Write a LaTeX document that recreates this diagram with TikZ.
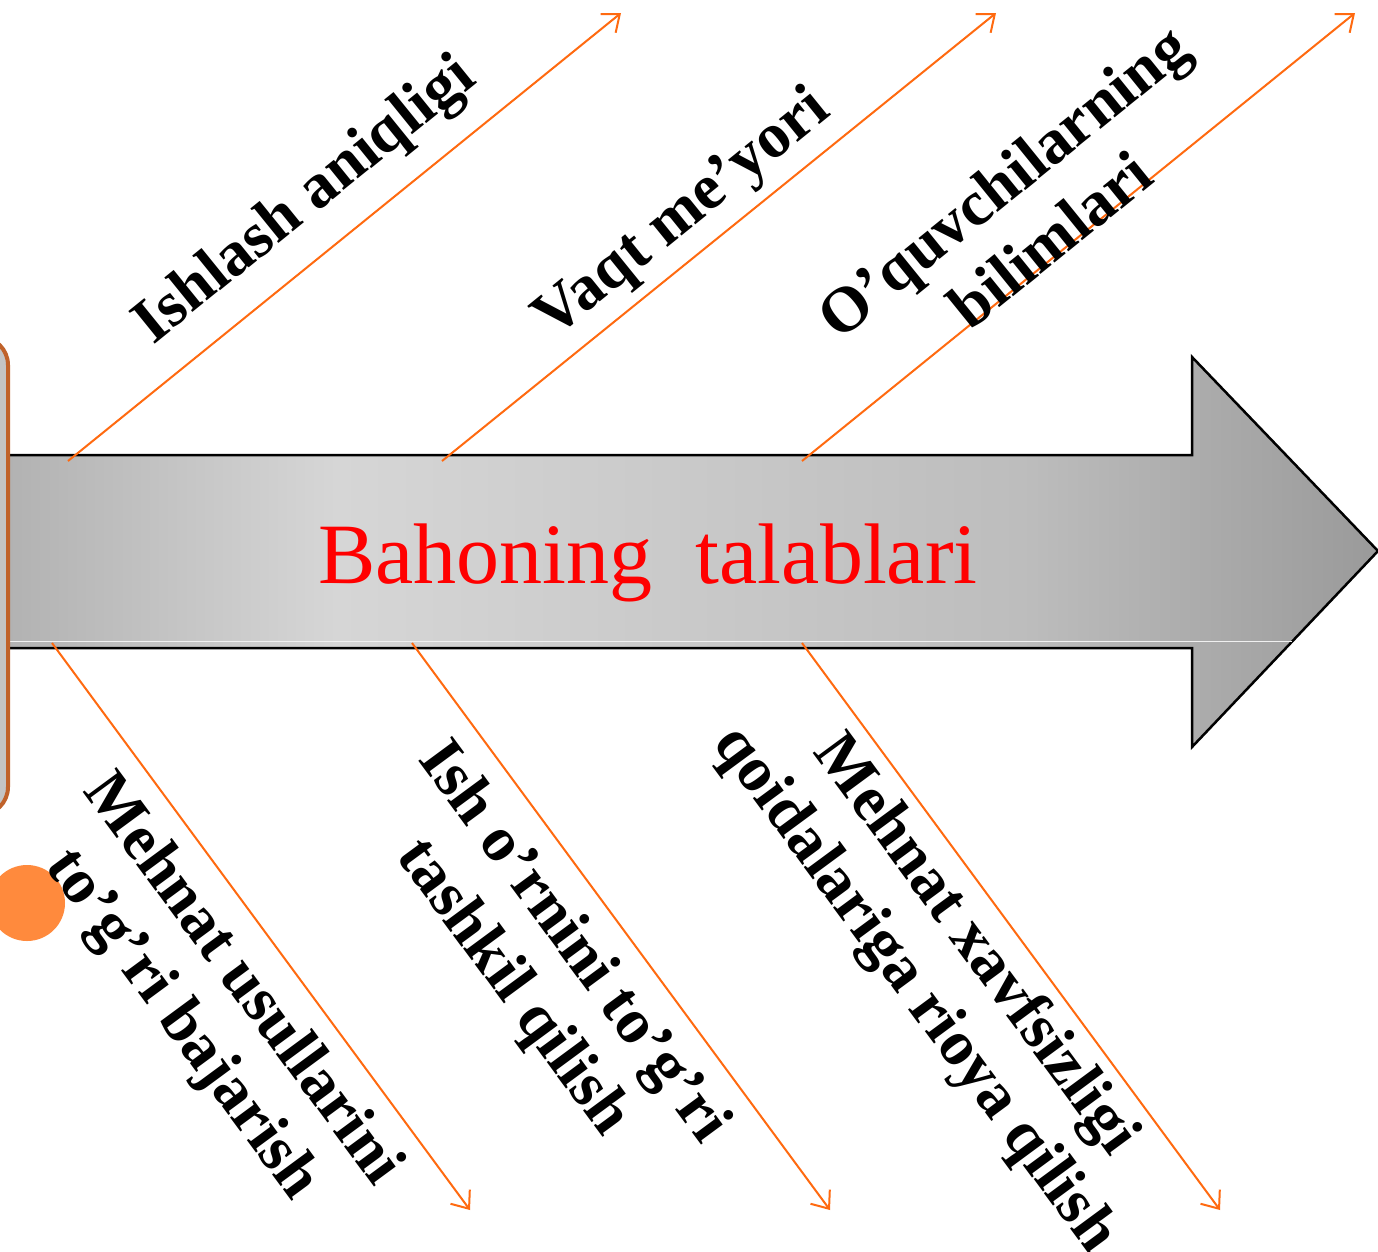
\documentclass[tikz,border=0pt]{standalone}
\usepackage{fontspec}
\setmainfont{Liberation Serif}
\usetikzlibrary{arrows.meta}
\definecolor{branch}{HTML}{FF6A10}
\definecolor{boxedge}{HTML}{C0622A}
\definecolor{boxfill}{HTML}{C4C4C4}
\definecolor{dotc}{HTML}{FF8A3D}
\definecolor{ga}{HTML}{B2B2B2}
\definecolor{gb}{HTML}{D6D6D6}
\definecolor{gc}{HTML}{BDBDBD}
\definecolor{gd}{HTML}{9A9A9A}
\pgfdeclarehorizontalshading{barshade}{100bp}{color(0bp)=(ga); color(25bp)=(ga); color(37bp)=(gb); color(62bp)=(gc); color(75bp)=(gd); color(100bp)=(gd)}
\tikzset{
  lab/.style={font=\bfseries\fontsize{64}{75}\selectfont, align=center, inner sep=0pt, text=black},
  branchline/.style={draw=branch, line width=2pt, -{Straight Barb[length=15pt,width=24pt]}},
  bigarrow/.style={draw=black, line width=2.5pt, shading=barshade},
}
\begin{document}
\begin{tikzpicture}[x=1pt,y=-1pt]
\useasboundingbox (0,0) rectangle (1378,1251);
\fill[white] (0,0) rectangle (1378,1251);
% big arrow
\path[bigarrow] (8,455) -- (1192,455) -- (1192,357) -- (1378,551) -- (1192,747) -- (1192,648) -- (8,648) -- cycle;
\draw[white!88!gray, line width=1pt] (10,641) -- (1292,641);
% left box and dot
\draw[boxedge, line width=4pt, fill=boxfill, rounded corners=28pt] (-60,337) rectangle (8,815);
\fill[dotc] (27,903) circle (38pt);
% title
\node[font=\fontsize{86}{92}\selectfont, text=red, inner sep=0pt, anchor=base] (title) at (648,583) {Bahoning\hspace{0.5em}talablari};
% coordinates of branches
\coordinate (s1) at (68,461);  \coordinate (e1) at (621,13);
\coordinate (s2) at (442,461); \coordinate (e2) at (996,13);
\coordinate (s3) at (802,461); \coordinate (e3) at (1355,13);
\coordinate (s4) at (52,643);  \coordinate (e4) at (470,1210);
\coordinate (s5) at (412,643); \coordinate (e5) at (830,1210);
\coordinate (s6) at (802,643); \coordinate (e6) at (1220,1210);
\foreach \i in {1,...,6} { \draw[branchline] (s\i) -- (e\i); }
% labels
\node[lab, rotate=39] (l1) at (306,202) {Ishlash aniqligi};
\node[lab, rotate=39] (l2) at (683,215) {Vaqt me’yori};
\node[lab, rotate=39] (l3) at (1026,210) {O’quvchilarning\\bilimlari};
\node[lab, rotate=-53.6] (l4) at (211,1003) {Mehnat usullarini\\to’g’ri bajarish};
\node[lab, rotate=-53.6] (l5) at (542,966) {Ish o’rnini to’g’ri\\tashkil qilish};
\node[lab, rotate=-53.6] (l6) at (944,968) {Mehnat xavfsizligi\\qoidalariga rioya qilish};
\end{tikzpicture}
\end{document}
